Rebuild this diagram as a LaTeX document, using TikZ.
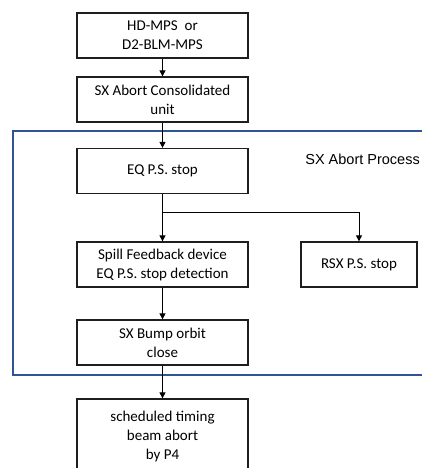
\documentclass[tikz,border=0pt]{standalone}
\usepackage{fontspec}
\setmainfont{Carlito}
\newfontfamily\arialfont{Liberation Sans}
\usetikzlibrary{arrows.meta}
\definecolor{frameblue}{RGB}{47,85,151}
\definecolor{boxline}{RGB}{30,30,30}
\tikzset{
  stepbox/.style={draw=boxline, line width=1.3pt, minimum width=171pt, minimum height=45pt,
    align=center, inner sep=2pt, font=\fontsize{15}{19}\selectfont},
  flow/.style={draw=black, line width=1pt, -{Triangle[length=6pt,width=6pt]}},
  link/.style={draw=black, line width=1pt}
}
\begin{document}
\begin{tikzpicture}[x=1pt,y=-1pt]
\useasboundingbox (0,0) rectangle (422,468);
\clip (0,0) rectangle (422,468);
\fill[white] (0,0) rectangle (422,468);
\draw[frameblue, line width=2pt] (13,131) rectangle (440,375);
\node[font=\arialfont\fontsize{14.5}{18}\selectfont, anchor=east, inner sep=1pt] (lbl) at (421,159) {SX Abort Process};
\node[stepbox] (a) at (162.5,35.5) {HD-MPS\ \ or\\D2-BLM-MPS};
\node[stepbox] (b) at (162.5,99.5) {SX Abort Consolidated\\unit};
\node[stepbox] (c) at (162.5,171) {EQ P.S. stop};
\node[stepbox] (d) at (162.5,264.5) {Spill Feedback device\\EQ P.S. stop detection};
\node[stepbox, minimum width=116pt] (r) at (359,264.5) {RSX P.S. stop};
\node[stepbox] (e) at (162.5,342.5) {SX Bump orbit\\close};
\node[stepbox, minimum height=75pt] (f) at (162.5,436.5) {scheduled timing\\beam abort\\by P4};
\coordinate (j) at (162.5,212);
\coordinate (jr) at (359,212);
\draw[flow] (a) -- (b);
\draw[flow] (b) -- (c);
\draw[flow] (c) -- (d);
\draw[link] (j) -- (jr);
\draw[flow] (jr) -- (r);
\draw[flow] (d) -- (e);
\draw[flow] (e) -- (f);
\end{tikzpicture}
\end{document}
